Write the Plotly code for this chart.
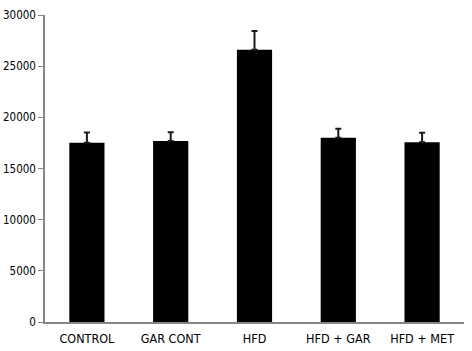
import plotly.graph_objects as go

categories = ["CONTROL", "GAR CONT", "HFD", "HFD + GAR", "HFD + MET"]
values = [17520, 17690, 26610, 18010, 17560]
errors = [1000, 850, 1830, 880, 940]
y_ticks = [0, 5000, 10000, 15000, 20000, 25000, 30000]

fig = go.Figure(
    go.Bar(
        x=categories,
        y=values,
        marker=dict(color="black", line=dict(width=0)),
        error_y=dict(type="data", array=errors, arrayminus=[0] * len(errors),
                     symmetric=False, color="#1a1a1a", thickness=2, width=3),
    )
)

font_family = "DejaVu Sans Condensed, Liberation Sans Narrow, Liberation Sans, sans-serif"
fig.update_layout(
    width=472, height=351,
    margin=dict(l=45, r=8, t=15, b=29),
    paper_bgcolor="white", plot_bgcolor="white",
    bargap=0.58,
    showlegend=False,
    font=dict(family=font_family, size=12, color="black"),
)
fig.update_yaxes(
    range=[0, 30000], tickvals=y_ticks, ticktext=[str(v) for v in y_ticks],
    showline=True, linecolor="#868686", linewidth=1.5,
    ticks="outside", ticklen=5, tickcolor="#868686", tickwidth=1,
    tickfont=dict(size=11.5),
    showgrid=False, zeroline=False, automargin=False,
)
fig.update_xaxes(
    showline=True, linecolor="#868686", linewidth=1.5,
    ticks="", showgrid=False, zeroline=False, automargin=False,
    tickfont=dict(size=12.5), ticklabelstandoff=4,
)

fig.write_html("out.html")
